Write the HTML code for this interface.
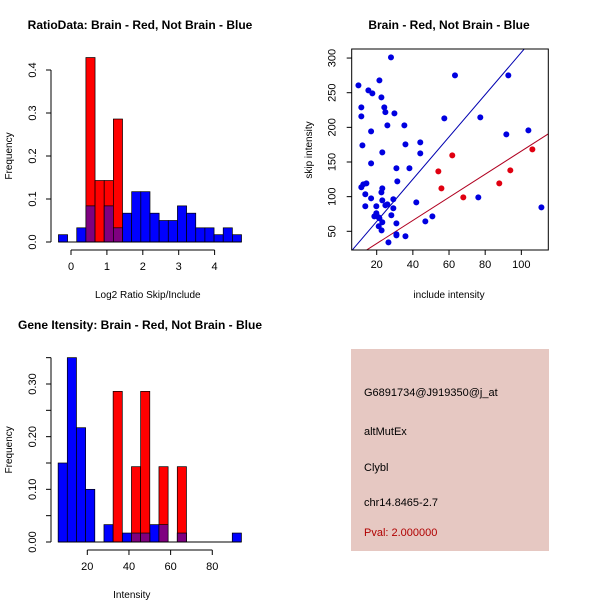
<!DOCTYPE html>
<html><head><meta charset="utf-8"><style>
html,body{margin:0;padding:0;background:#fff;}
svg{display:block;font-family:"Liberation Sans",Arial,sans-serif;}
</style></head><body>
<svg id="c" width="600" height="600" xmlns="http://www.w3.org/2000/svg">
<rect width="600" height="600" fill="#fff"/>
<text x="140" y="29" font-size="12" font-weight="bold" text-anchor="middle">RatioData: Brain - Red, Not Brain - Blue</text>
<text x="449" y="29" font-size="12" font-weight="bold" text-anchor="middle">Brain - Red, Not Brain - Blue</text>
<text x="140" y="329" font-size="12" font-weight="bold" text-anchor="middle">Gene Itensity: Brain - Red, Not Brain - Blue</text>
<rect x="351" y="349" width="198" height="202" fill="#e6c8c2"/>
<g font-size="11">
<text x="364" y="396">G6891734@J919350@j_at</text>
<text x="364" y="435">altMutEx</text>
<text x="364" y="471">Clybl</text>
<text x="364" y="506">chr14.8465-2.7</text>
<text x="364" y="536" fill="#b00000">Pval: 2.000000</text>
</g>
<g id="g1"></g><g id="g2"></g><g id="g3"></g>
</svg>
<script>
// Panel 1 data
const ratioStart = -0.35, ratioWidth = 0.255;
const ratioBlue = [0.017,0,0.033,0.084,0,0.084,0.033,0.067,0.117,0.117,0.067,0.05,0.05,0.084,0.067,0.033,0.033,0.017,0.033,0.017];
const ratioRed  = [0,0,0,0.429,0.143,0.143,0.286,0,0,0,0,0,0,0,0,0,0,0,0,0];
const ratioXTicks = [0,1,2,3,4];
const ratioYTicks = [0.0,0.1,0.2,0.3,0.4];
const ratioYLabels = ["0.0","0.1","0.2","0.3","0.4"];
// Panel 3 data
const intStart = 6, intWidth = 4.4;
const intBlue = [0.15,0.35,0.217,0.10,0,0.033,0,0.017,0.017,0.017,0.033,0.033,0,0.017,0,0,0,0,0,0.017];
const intRed  = [0,0,0,0,0,0,0.286,0,0.143,0.286,0,0.143,0,0.143,0,0,0,0,0,0];
const intXTicks = [20,40,60,80];
const intYTicks = [0,0.05,0.10,0.15,0.20,0.25,0.30,0.35];
const intYLabels = ["0.00","","0.10","","0.20","","0.30",""];
// Panel 2 data
const blueX = [9.9,11.5,11.5,12.1,15.4,17.6,21.5,22.6,24.2,24.8,29.8,27.9,16.9,25.9,35.3,23.1,35.9,44.1,44.1,16.9,30.9,38.1,31.4,11.5,12.6,14.3,23.1,22.6,13.7,16.9,23.1,29.2,25.9,24.8,19.8,13.7,29.2,19.8,18.7,21,21.5,28.1,23.1,21.1,22.7,30.9,30.9,30.9,26.5,35.9,41.9,46.9,50.8,57.4,63.3,77.3,76.2,92.8,91.7,103.9,111.1];
const blueY = [260.6,228.8,215.9,174,253.4,249,267.8,243.3,228.8,222,220.2,301,194.2,202.9,202.9,163.9,175.5,178.4,162.5,148.1,140.9,140.9,122.1,113.5,117.8,119.2,112,106.2,103.4,97.6,94.7,96.2,88.9,87.5,86.1,86.1,83.2,76,71.6,70.2,68.8,73.1,63,57.2,51.4,61.5,45.7,44.2,34.1,42.8,91.8,64.4,71.6,213,275,214.4,99,275,189.9,195.7,84.6];
const redX = [54.1,55.8,61.8,67.9,87.8,93.9,106.1];
const redY = [136.5,112,159.6,99,119.2,138,168.3];
const lineIntercepts = [3.2,-1];
const lineSlopes = [3.05,1.667];
const scX = [20,40,60,80,100];
const scY = [50,100,150,200,250,300];

const NS="http://www.w3.org/2000/svg";
function mk(parent,tag,attrs){const e=document.createElementNS(NS,tag);for(const k in attrs)e.setAttribute(k,attrs[k]);parent.appendChild(e);return e;}

function hist(g,start,w,blue,red,xs,ys,yl,xmap,ymap,xAxisY,yAxisX,xlabel,xlabY,name){
  for(let i=0;i<blue.length;i++){
    const x0=xmap(start+i*w), x1=xmap(start+(i+1)*w);
    if(blue[i]>0){const r=mk(g,'rect',{x:x0,y:ymap(blue[i]),width:x1-x0,height:ymap(0)-ymap(blue[i]),fill:'#0000ff',stroke:'#000','stroke-width':0.7});
      
      }
  }
  for(let i=0;i<red.length;i++){
    const x0=xmap(start+i*w), x1=xmap(start+(i+1)*w);
    if(red[i]>0){const r=mk(g,'rect',{x:x0,y:ymap(red[i]),width:x1-x0,height:ymap(0)-ymap(red[i]),fill:'#ff0000',stroke:'#000','stroke-width':0.7});
      
      
      if(blue[i]>0){const m=Math.min(blue[i],red[i]);const p=mk(g,'rect',{x:x0,y:ymap(m),width:x1-x0,height:ymap(0)-ymap(m),fill:'#7f0080',stroke:'#000','stroke-width':0.7});
        
        }
    }
  }
  mk(g,'line',{x1:xmap(start),x2:xmap(start+blue.length*w),y1:ymap(0),y2:ymap(0),stroke:'#000','stroke-width':1});
  mk(g,'line',{x1:xmap(xs[0]),x2:xmap(xs[xs.length-1]),y1:xAxisY,y2:xAxisY,stroke:'#000'});
  xs.forEach(v=>{mk(g,'line',{x1:xmap(v),x2:xmap(v),y1:xAxisY,y2:xAxisY+5,stroke:'#000'});
    const t=mk(g,'text',{x:xmap(v),y:xAxisY+20,'font-size':11,'text-anchor':'middle'});t.textContent=v;
    
    });
  mk(g,'line',{x1:yAxisX,x2:yAxisX,y1:ymap(ys[0]),y2:ymap(ys[ys.length-1]),stroke:'#000'});
  ys.forEach((v,i)=>{const y=ymap(v);mk(g,'line',{x1:yAxisX-5,x2:yAxisX,y1:y,y2:y,stroke:'#000'});
    if(yl[i]){const tx=yAxisX-15;const t=mk(g,'text',{x:tx,y:y,'font-size':11,'text-anchor':'middle',transform:`rotate(-90 ${tx} ${y})`});t.textContent=yl[i];
    
    }});
  const xl=mk(g,'text',{x:xmap(xs[0])/2+xmap(xs[xs.length-1])/2+ (name==='ratio'?5:-18),y:xlabY,'font-size':10,'text-anchor':'middle'});xl.textContent=xlabel;
  
  
  const mid=(ymap(ys[0])+ymap(ys[ys.length-1]))/2;
  const yt=mk(g,'text',{x:12,y:mid,'font-size':10,'text-anchor':'middle',transform:`rotate(-90 12 ${mid})`});yt.textContent='Frequency';
  
  
}
hist(document.getElementById('g1'),ratioStart,ratioWidth,ratioBlue,ratioRed,ratioXTicks,ratioYTicks,ratioYLabels,
  v=>71+v*35.9, v=>242-v*430, 250, 51, 'Log2 Ratio Skip/Include', 298,'ratio');
hist(document.getElementById('g3'),intStart,intWidth,intBlue,intRed,intXTicks,intYTicks,intYLabels,
  v=>87.3+(v-20)*2.083, v=>542-v*526.7, 550, 51, 'Intensity', 598,'intensity');

const g2=document.getElementById('g2');
const sx=v=>376.7+(v-20)*1.808, sy=v=>231.3-(v-50)*0.693;
const L=351.7,R=548.3,T=49,B=250;
const cp=mk(g2,'clipPath',{id:'cl'});mk(cp,'rect',{x:L,y:T,width:R-L,height:B-T});
const lineCols=['#0000b0','#b00020'];
lineIntercepts.forEach((a,i)=>{const x0=0,x1=130;
  const l=mk(g2,'line',{x1:sx(x0),y1:sy(a+lineSlopes[i]*x0),x2:sx(x1),y2:sy(a+lineSlopes[i]*x1),stroke:lineCols[i],'stroke-width':1,'clip-path':'url(#cl)'});
  
  });
blueX.forEach((x,i)=>{const c=mk(g2,'circle',{cx:sx(x),cy:sy(blueY[i]),r:3,fill:'#0000e0'});
  
  });
redX.forEach((x,i)=>{const c=mk(g2,'circle',{cx:sx(x),cy:sy(redY[i]),r:3,fill:'#e00010'});
  
  });
mk(g2,'rect',{x:L,y:T,width:R-L,height:B-T,fill:'none',stroke:'#000'});
scX.forEach(v=>{mk(g2,'line',{x1:sx(v),x2:sx(v),y1:B,y2:B+5,stroke:'#000'});
  const t=mk(g2,'text',{x:sx(v),y:B+18,'font-size':11,'text-anchor':'middle'});t.textContent=v;
  
  });
scY.forEach(v=>{const y=sy(v);mk(g2,'line',{x1:L-5,x2:L,y1:y,y2:y,stroke:'#000'});
  const tx=L-16;const t=mk(g2,'text',{x:tx,y:y,'font-size':11,'text-anchor':'middle',transform:`rotate(-90 ${tx} ${y})`});t.textContent=v;
  
  });
const sxl=mk(g2,'text',{x:449,y:298,'font-size':10,'text-anchor':'middle'});sxl.textContent='include intensity';


const syl=mk(g2,'text',{x:312,y:150,'font-size':10,'text-anchor':'middle',transform:'rotate(-90 312 150)'});syl.textContent='skip intensity';


</script>
</body></html>
